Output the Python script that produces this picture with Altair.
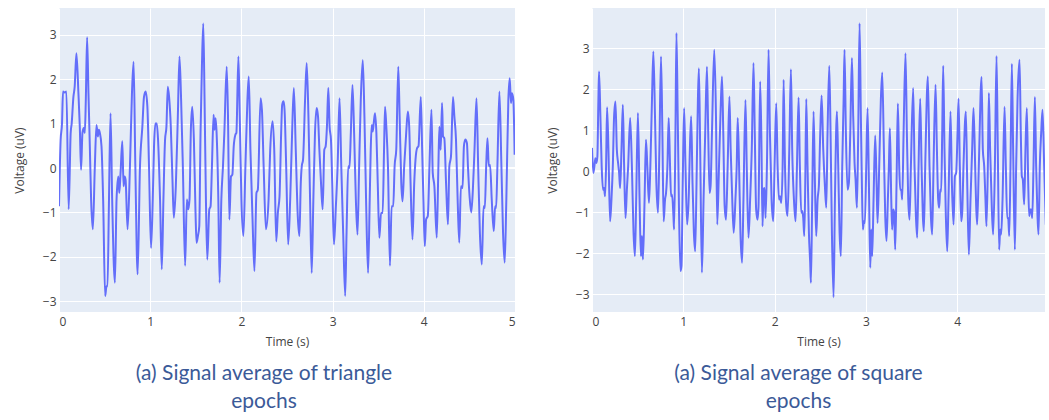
import altair as alt
import pandas as pd

# Signal average of the triangle-stimulus epochs (time in s, voltage in uV)
t_tri = [0.000, 0.018, 0.033, 0.044, 0.062, 0.081, 0.106, 0.128, 0.139, 0.158, 0.172, 0.191,
         0.213, 0.228, 0.242, 0.257, 0.272, 0.283, 0.294, 0.308, 0.323, 0.338, 0.352, 0.371,
         0.393, 0.411, 0.426, 0.437, 0.448, 0.466, 0.484, 0.506, 0.521, 0.532, 0.547, 0.565,
         0.583, 0.613, 0.631, 0.650, 0.661, 0.675, 0.694, 0.708, 0.719, 0.730, 0.752, 0.778,
         0.800, 0.818, 0.837, 0.862, 0.888, 0.914, 0.932, 0.950, 0.969, 0.987, 1.009, 1.028,
         1.042, 1.057, 1.072, 1.086, 1.108, 1.127, 1.145, 1.163, 1.178, 1.193, 1.207, 1.226,
         1.244, 1.259, 1.281, 1.303, 1.321, 1.339, 1.358, 1.383, 1.402, 1.417, 1.431, 1.446,
         1.461, 1.479, 1.497, 1.508, 1.523, 1.538, 1.552, 1.567, 1.582, 1.596, 1.611, 1.626,
         1.648, 1.662, 1.677, 1.695, 1.706, 1.717, 1.728, 1.747, 1.761, 1.780, 1.798, 1.813,
         1.839, 1.853, 1.868, 1.886, 1.901, 1.916, 1.934, 1.945, 1.967, 1.982, 2.000, 2.022,
         2.044, 2.066, 2.081, 2.099, 2.121, 2.143, 2.165, 2.180, 2.210, 2.225, 2.244, 2.269,
         2.298, 2.316, 2.342, 2.360, 2.382, 2.400, 2.418, 2.436, 2.447, 2.462, 2.473, 2.491,
         2.513, 2.535, 2.556, 2.575, 2.596, 2.618, 2.636, 2.651, 2.662, 2.676, 2.698, 2.716,
         2.735, 2.753, 2.771, 2.789, 2.807, 2.825, 2.840, 2.855, 2.873, 2.891, 2.909, 2.924,
         2.938, 2.953, 2.967, 2.982, 2.996, 3.015, 3.036, 3.055, 3.076, 3.095, 3.116, 3.138,
         3.153, 3.171, 3.185, 3.200, 3.218, 3.236, 3.255, 3.273, 3.291, 3.309, 3.331, 3.349,
         3.367, 3.389, 3.407, 3.418, 3.429, 3.440, 3.451, 3.465, 3.480, 3.495, 3.513, 3.531,
         3.549, 3.564, 3.575, 3.589, 3.607, 3.629, 3.647, 3.665, 3.680, 3.698, 3.720, 3.735,
         3.753, 3.767, 3.785, 3.807, 3.825, 3.840, 3.855, 3.876, 3.895, 3.909, 3.927, 3.942,
         3.967, 3.982, 3.996, 4.011, 4.025, 4.044, 4.062, 4.084, 4.098, 4.116, 4.142, 4.160,
         4.171, 4.185, 4.200, 4.211, 4.225, 4.244, 4.265, 4.280, 4.298, 4.320, 4.335, 4.353,
         4.371, 4.389, 4.407, 4.425, 4.440, 4.455, 4.473, 4.484, 4.502, 4.520, 4.538, 4.556,
         4.578, 4.596, 4.615, 4.636, 4.655, 4.669, 4.684, 4.698, 4.713, 4.727, 4.745, 4.767,
         4.782, 4.793, 4.807, 4.829, 4.851, 4.869, 4.887, 4.905, 4.927, 4.942, 4.956, 4.967,
         4.982, 4.996]
v_tri = [-0.86, 0.64, 1.00, 1.72, 1.70, 1.72, -0.93, 0.79, 1.00, 1.60, 1.83, 2.58,
         1.68, 0.93, -0.04, 0.79, 0.90, 0.79, 1.53, 2.94, 1.68, 0.49, -0.71, -1.38,
         0.04, 0.97, 0.71, 0.86, 0.79, 0.49, -0.71, -2.88, -2.66, -2.66, -0.86, 1.23,
         -0.71, -2.58, -0.71, -0.19, -0.56, -0.11, 0.60, -0.41, -0.19, -0.26, -1.38, 0.04,
         1.68, 2.39, 0.04, -2.39, 0.04, 0.93, 1.60, 1.72, 1.38, 0.04, -1.80, -0.71,
         0.49, 1.00, 1.00, 0.64, -0.71, -2.28, -0.71, 0.64, 0.93, 1.83, 1.60, 0.93,
         -0.26, -1.12, -0.41, 1.16, 2.51, 1.53, 0.04, -2.20, -0.71, -0.93, -0.71, 0.86,
         1.38, 0.64, -1.00, -1.68, -1.53, -1.31, 0.79, 2.28, 3.25, 1.53, -0.71, -2.06,
         -0.93, -0.86, 0.04, 1.20, 0.86, 1.12, 0.79, -0.71, -2.58, -0.71, 0.04, 0.79,
         2.28, 1.16, -1.16, -0.19, -0.15, 0.49, 0.75, 0.79, 2.51, 1.16, -0.71, -1.53,
         0.04, 1.53, 2.06, 0.41, -1.08, -2.32, -0.56, -0.49, 1.57, 1.31, 0.04, -1.38,
         -0.71, 0.41, 1.05, 0.41, -1.65, -1.00, -0.64, 0.79, 1.42, 1.50, 1.31, 0.04,
         -1.72, -0.71, 0.79, 1.80, 0.41, -1.08, -1.53, -0.34, 0.04, 0.19, 1.53, 2.36,
         1.16, -0.71, -2.36, -0.71, 0.79, 1.35, 1.16, 0.41, -0.34, -0.93, 0.41, 0.49,
         0.93, 1.80, 0.93, 0.64, -0.34, -1.72, -0.86, 0.04, 1.57, 0.04, -1.46, -2.88,
         -1.46, 0.04, 0.00, 0.79, 1.87, 0.79, -0.71, -1.50, 0.04, 1.53, 2.43, 1.16,
         -0.71, -2.36, -0.71, 0.41, 0.97, 0.82, 1.01, 1.23, 0.79, -0.34, -1.57, -1.01,
         -1.01, 0.41, 1.38, 0.93, 0.04, -2.20, -0.86, -0.86, 0.04, 0.41, 2.28, 1.16,
         -0.34, -0.75, 0.04, 0.79, 1.27, 0.93, -0.34, -1.61, -0.34, 0.19, 0.45, 0.49,
         1.60, 0.41, -0.71, -1.76, -1.16, -1.08, 0.04, 1.31, -0.11, -0.41, -1.57, 0.04,
         0.93, 0.41, 1.46, 0.71, 0.67, -0.34, -1.27, 0.04, 0.26, 1.60, 1.16, 0.64,
         -0.71, -1.68, -0.41, -0.45, 0.49, 0.64, 0.56, 0.04, -0.64, -1.00, -0.49, 0.41,
         1.57, 0.04, -1.46, -2.17, -0.86, -0.90, 0.04, 0.67, 0.04, 0.07, -0.71, -1.42,
         -0.86, -0.90, 0.04, 1.72, 0.04, -1.46, -2.13, -0.71, 1.53, 2.02, 1.46, 1.68,
         1.53, 0.30]

# Signal average of the square-stimulus epochs (time in s, voltage in uV)
t_sq = [0.000, 0.015, 0.026, 0.037, 0.048, 0.059, 0.070, 0.077, 0.092, 0.106, 0.121, 0.132,
        0.143, 0.154, 0.165, 0.180, 0.198, 0.213, 0.228, 0.242, 0.257, 0.272, 0.286, 0.297,
        0.308, 0.323, 0.338, 0.352, 0.367, 0.382, 0.396, 0.418, 0.437, 0.455, 0.470, 0.484,
        0.503, 0.521, 0.536, 0.547, 0.558, 0.576, 0.591, 0.606, 0.624, 0.639, 0.657, 0.672,
        0.690, 0.705, 0.723, 0.738, 0.756, 0.771, 0.785, 0.800, 0.811, 0.826, 0.840, 0.855,
        0.866, 0.877, 0.892, 0.899, 0.914, 0.925, 0.939, 0.954, 0.969, 0.980, 0.994, 1.009,
        1.024, 1.042, 1.061, 1.072, 1.086, 1.101, 1.116, 1.130, 1.145, 1.160, 1.171, 1.185,
        1.204, 1.222, 1.240, 1.259, 1.273, 1.288, 1.299, 1.314, 1.339, 1.358, 1.372, 1.391,
        1.409, 1.424, 1.438, 1.453, 1.468, 1.486, 1.505, 1.519, 1.534, 1.552, 1.571, 1.585,
        1.596, 1.611, 1.626, 1.644, 1.659, 1.681, 1.695, 1.714, 1.732, 1.750, 1.769, 1.783,
        1.798, 1.813, 1.824, 1.842, 1.857, 1.868, 1.879, 1.890, 1.901, 1.916, 1.934, 1.949,
        1.967, 1.985, 2.000, 2.018, 2.033, 2.048, 2.059, 2.073, 2.088, 2.099, 2.114, 2.128,
        2.142, 2.161, 2.179, 2.193, 2.212, 2.230, 2.245, 2.263, 2.277, 2.292, 2.303, 2.314,
        2.325, 2.336, 2.347, 2.361, 2.376, 2.390, 2.398, 2.412, 2.427, 2.442, 2.456, 2.471,
        2.485, 2.500, 2.515, 2.533, 2.551, 2.566, 2.580, 2.599, 2.613, 2.628, 2.646, 2.661,
        2.683, 2.697, 2.712, 2.726, 2.741, 2.756, 2.766, 2.781, 2.799, 2.814, 2.829, 2.847,
        2.861, 2.876, 2.887, 2.902, 2.916, 2.931, 2.945, 2.956, 2.967, 2.978, 2.989, 3.004,
        3.018, 3.033, 3.048, 3.059, 3.069, 3.084, 3.102, 3.117, 3.128, 3.146, 3.164, 3.179,
        3.197, 3.212, 3.226, 3.241, 3.252, 3.263, 3.278, 3.288, 3.299, 3.310, 3.321, 3.336,
        3.350, 3.365, 3.376, 3.387, 3.398, 3.413, 3.434, 3.449, 3.464, 3.478, 3.493, 3.518,
        3.533, 3.548, 3.562, 3.577, 3.595, 3.610, 3.624, 3.635, 3.650, 3.679, 3.697, 3.712,
        3.726, 3.741, 3.763, 3.778, 3.792, 3.803, 3.814, 3.825, 3.836, 3.847, 3.861, 3.876,
        3.891, 3.905, 3.927, 3.942, 3.960, 3.975, 3.989, 4.004, 4.015, 4.029, 4.044, 4.055,
        4.069, 4.095, 4.110, 4.128, 4.146, 4.164, 4.179, 4.197, 4.208, 4.219, 4.237, 4.267,
        4.281, 4.296, 4.310, 4.321, 4.336, 4.347, 4.361, 4.380, 4.394, 4.413, 4.431, 4.445,
        4.460, 4.471, 4.482, 4.497, 4.519, 4.533, 4.548, 4.559, 4.570, 4.584, 4.599, 4.613,
        4.632, 4.646, 4.661, 4.683, 4.697, 4.708, 4.719, 4.734, 4.748, 4.763, 4.778, 4.789,
        4.800, 4.811, 4.822, 4.836, 4.851, 4.865, 4.880, 4.891, 4.905, 4.920, 4.935, 4.953,
        4.971]
v_sq = [0.57, -0.04, 0.12, 0.32, 0.20, 0.36, 1.74, 2.43, 1.34, 0.12, -0.45, -0.41,
        -0.61, 0.12, 1.56, 0.53, -1.22, -0.69, 0.12, 1.34, 1.70, 0.53, 0.20, -0.04,
        -0.41, 0.53, 1.62, 0.12, -1.14, -0.45, 0.12, 1.30, 0.12, -1.50, -2.07, -0.69,
        1.42, -0.69, -2.07, -1.58, -2.15, -0.69, 0.77, 0.12, -0.77, 0.12, 1.74, 2.92,
        1.34, -0.28, -1.01, 0.53, 2.80, 0.93, -1.22, -0.69, -0.53, 0.12, 1.30, 0.12,
        -0.61, -0.57, -1.09, -1.42, 0.93, 3.37, 1.34, -1.09, -2.43, -2.31, -0.28, 1.54,
        0.12, -1.30, -0.53, 0.53, 1.34, -0.28, -1.50, -1.95, -0.28, 1.74, 2.51, 0.53,
        -2.47, -0.69, 0.93, 2.55, 0.93, -0.53, -0.36, 0.93, 2.96, 1.34, -1.30, 0.12,
        1.50, 2.31, 0.93, -0.85, -1.18, 0.12, 1.82, 0.53, -0.53, -1.50, -0.69, 0.12,
        1.30, 0.12, -1.50, -2.23, -0.69, 1.74, 0.12, -1.62, -0.69, 0.53, 2.64, 0.93,
        -0.93, -1.18, -0.85, 2.19, 0.53, -1.34, -0.45, -0.41, -1.14, 0.12, 2.96, 0.93,
        -0.69, -1.22, 0.12, 1.66, 0.12, -0.69, -0.61, -0.77, 0.12, 2.23, 0.12, -0.85,
        -1.09, 0.53, 2.49, 0.53, -0.69, -1.22, 0.12, 1.80, 0.12, -1.01, -0.97, -1.14,
        -1.58, -0.28, 1.76, 0.12, -1.50, -2.23, -2.72, -0.69, 1.46, -0.28, -1.58, -0.69,
        -0.36, 0.93, 1.85, 0.53, -0.36, -0.89, 0.93, 2.57, 0.93, -1.50, -3.07, -0.69,
        1.46, 0.12, -1.50, -2.07, 0.12, 1.74, 2.96, 0.93, -0.45, -0.28, 0.93, 2.76,
        1.34, 0.20, -0.20, -0.89, 0.93, 3.61, 1.34, -0.28, -1.42, -1.22, -1.26, 0.12,
        1.54, -0.28, -2.35, -1.42, -2.07, -0.69, 0.87, -0.28, -1.26, 0.12, 1.74, 2.41,
        0.53, -1.09, -1.70, -0.69, 0.12, 1.05, -0.69, -1.42, -0.93, -1.01, -1.91, -0.28,
        1.65, 0.12, -0.45, -0.45, -0.69, 0.93, 2.88, 0.93, -0.69, -1.18, 0.12, 2.03,
        0.12, -1.09, -1.62, 0.12, 1.77, 0.12, -1.09, -1.46, 0.12, 2.31, 0.12, -1.09,
        -1.54, 0.12, 2.11, 0.53, -0.69, -0.89, -0.45, -0.49, 0.93, 2.57, 0.53, -1.09,
        -1.95, -0.69, 1.46, -0.28, -1.30, -0.12, -0.04, 0.93, 1.77, 0.12, -1.22, -1.01,
        0.12, 1.46, -0.28, -2.03, -0.69, 0.53, 1.54, 0.12, -0.85, -1.30, 0.12, 2.30,
        0.53, 0.12, -0.69, -1.34, 0.12, 1.91, 0.53, -0.93, -1.54, 0.12, 2.81, 0.53,
        -1.91, -1.42, -1.54, -0.69, 1.57, 0.12, -1.14, -1.14, -1.58, 0.12, 2.62, 0.53,
        -1.91, 0.12, 1.74, 2.72, 0.93, -0.12, -0.20, -0.81, 0.53, 1.54, -0.28, -1.09,
        -0.93, -0.93, -1.14, 0.12, 1.81, 0.12, -1.09, -1.54, 0.12, 0.93, 1.50, 0.12,
        -1.30]

x_ticks = [0, 1, 2, 3, 4, 5]
y_ticks = [-3, -2, -1, 0, 1, 2, 3]

LINE = "#636EFA"
FONT = "Open Sans"
CAPTION_FONT = "Lato"
CAPTION_COLOR = "#3B5A98"


def panel(t, v, x_dom, y_dom, width, caption, cap_dx):
    df = pd.DataFrame({"t": t, "v": v})
    x = alt.X("t:Q", title="Time (s)",
              scale=alt.Scale(domain=x_dom, nice=False, zero=False),
              axis=alt.Axis(values=x_ticks, format="d", labelPadding=4, titlePadding=9))
    y = alt.Y("v:Q", title="Voltage (uV)",
              scale=alt.Scale(domain=y_dom, nice=False, zero=False),
              axis=alt.Axis(values=y_ticks, format="d", labelPadding=3, titlePadding=16))
    zero = alt.Chart(pd.DataFrame({"z": [0]})).mark_rule(
        color="white", strokeWidth=2).encode(y=alt.Y("z:Q", scale=alt.Scale(domain=y_dom, nice=False)))
    line = alt.Chart(df).mark_line(color=LINE, strokeWidth=2, interpolate="monotone",
                                   clip=True).encode(x=x, y=y)
    return alt.layer(zero, line).properties(
        width=width, height=304,
        title=alt.TitleParams(caption, orient="bottom", anchor="middle", frame="group",
                              offset=16, dx=cap_dx, fontSize=21, lineHeight=28,
                              font=CAPTION_FONT, fontWeight="normal", color=CAPTION_COLOR),
    )


left = panel(t_tri, v_tri, [0, 5], [-3.24, 3.60], 456,
             ["(a) Signal average of triangle", "epochs"], -23)
right = panel(t_sq, v_sq, [0, 4.962], [-3.43, 3.98], 453,
              ["(a) Signal average of square", "epochs"], -20)

chart = alt.hconcat(left, right, spacing=30).properties(
    padding={"left": 13, "right": 0, "top": 8, "bottom": 0},
    background="white",
).configure_view(
    fill="#E5ECF6", stroke=None
).configure_axis(
    grid=True, gridColor="white", gridWidth=1, domain=False, ticks=False,
    labelFont=FONT, labelFontSize=12, labelColor="#444444",
    titleFont=FONT, titleFontSize=12, titleFontWeight="normal", titleColor="#444444",
)

chart.save("out.html", embed_options={"renderer": "svg", "actions": False})
